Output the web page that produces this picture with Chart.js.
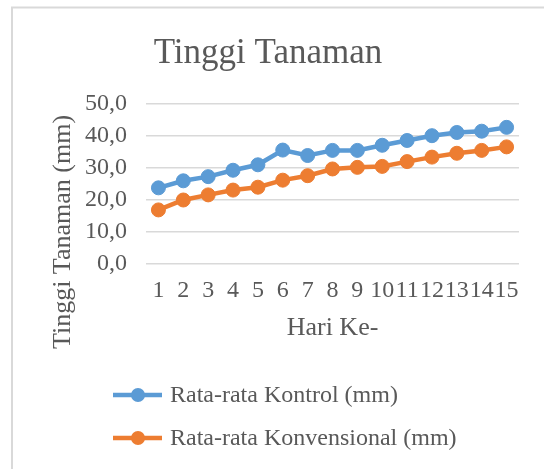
<!DOCTYPE html>
<html>
<head>
<meta charset="utf-8">
<script src="https://cdn.jsdelivr.net/npm/chart.js@4.4.1/dist/chart.umd.min.js"></script>
<style>
  html, body { margin: 0; padding: 0; background: #ffffff; }
  #wrap { width: 544px; height: 469px; position: relative; }
</style>
</head>
<body>
<div id="wrap"><canvas id="c" width="544" height="469"></canvas></div>
<script>
const categories = ['1','2','3','4','5','6','7','8','9','10','11','12','13','14','15'];
const kontrol = [23.8, 26.0, 27.3, 29.3, 31.0, 35.6, 33.9, 35.5, 35.5, 37.1, 38.6, 40.1, 41.1, 41.5, 42.7];
const konvensional = [16.9, 20.0, 21.6, 23.1, 24.0, 26.2, 27.6, 29.7, 30.2, 30.5, 32.0, 33.4, 34.6, 35.5, 36.6];
const seriesNames = ['Rata-rata Kontrol (mm)', 'Rata-rata Konvensional (mm)'];
const seriesColors = ['#5B9BD5', '#ED7D31'];
const chartTitle = 'Tinggi Tanaman';
const xTitle = 'Hari Ke-';
const yTitle = 'Tinggi Tanaman (mm)';

const FONT = "'Liberation Serif', 'Times New Roman', serif";
const TEXT = '#595959';

const framePlugin = {
  id: 'frame',
  beforeDraw(chart) {
    const ctx = chart.ctx;
    ctx.save();
    ctx.fillStyle = '#ffffff';
    ctx.fillRect(0, 0, chart.width, chart.height);
    ctx.strokeStyle = '#d9d9d9';
    ctx.lineWidth = 2;
    ctx.beginPath();
    ctx.moveTo(12, chart.height + 2);
    ctx.lineTo(12, 7.5);
    ctx.lineTo(chart.width + 2, 7.5);
    ctx.stroke();
    ctx.restore();
  }
};

const extrasPlugin = {
  id: 'extras',
  afterDraw(chart) {
    const ctx = chart.ctx;
    ctx.save();
    // y axis title
    ctx.fillStyle = TEXT;
    ctx.font = "26px " + FONT;
    ctx.textAlign = 'center';
    ctx.textBaseline = 'middle';
    ctx.translate(63, 232);
    ctx.rotate(-Math.PI / 2);
    ctx.fillText(yTitle, 0, 0);
    ctx.restore();

    // legend
    const rows = [395, 438];
    chart.data.datasets.forEach((ds, i) => {
      const y = rows[i];
      ctx.save();
      ctx.strokeStyle = ds.borderColor;
      ctx.lineWidth = 4.5;
      ctx.beginPath();
      ctx.moveTo(113, y);
      ctx.lineTo(162, y);
      ctx.stroke();
      ctx.fillStyle = ds.borderColor;
      ctx.beginPath();
      ctx.arc(138, y, 7, 0, Math.PI * 2);
      ctx.fill();
      ctx.fillStyle = TEXT;
      ctx.font = "24px " + FONT;
      ctx.textAlign = 'left';
      ctx.textBaseline = 'middle';
      ctx.fillText(ds.label, 170, y + 1);
      ctx.restore();
    });
  }
};

new Chart(document.getElementById('c'), {
  type: 'line',
  data: {
    labels: categories,
    datasets: [
      {
        label: seriesNames[0],
        data: kontrol,
        borderColor: seriesColors[0],
        backgroundColor: seriesColors[0],
        pointBackgroundColor: seriesColors[0],
        pointBorderColor: seriesColors[0],
        borderWidth: 4.5,
        pointRadius: 7,
        pointBorderWidth: 1,
        tension: 0
      },
      {
        label: seriesNames[1],
        data: konvensional,
        borderColor: seriesColors[1],
        backgroundColor: seriesColors[1],
        pointBackgroundColor: seriesColors[1],
        pointBorderColor: seriesColors[1],
        borderWidth: 4.5,
        pointRadius: 7,
        pointBorderWidth: 1,
        tension: 0
      }
    ]
  },
  options: {
    responsive: false,
    animation: false,
    events: [],
    layout: { padding: { left: 17, right: 25, top: 0, bottom: 0 } },
    plugins: {
      legend: { display: false },
      tooltip: { enabled: false },
      title: {
        display: true,
        text: chartTitle,
        color: TEXT,
        font: { family: FONT, size: 35, weight: 'normal' },
        padding: { top: 33, bottom: 29 }
      }
    },
    scales: {
      x: {
        offset: true,
        grid: { display: false, drawTicks: false },
        border: { display: false },
        ticks: {
          color: TEXT,
          font: { family: FONT, size: 24 },
          padding: 12,
          maxRotation: 0,
          autoSkip: false
        },
        title: {
          display: true,
          text: xTitle,
          color: TEXT,
          font: { family: FONT, size: 26 },
          padding: { top: 0, bottom: 125 }
        },
        afterFit(scale) { scale.height = 205; }
      },
      y: {
        min: 0,
        max: 50,
        grid: { color: '#d9d9d9', lineWidth: 1.5, drawTicks: false },
        border: { display: false },
        ticks: {
          stepSize: 10,
          color: TEXT,
          font: { family: FONT, size: 24 },
          padding: 19,
          callback: (v) => v.toFixed(1).replace('.', ',')
        },
        afterFit(scale) { scale.width = 129; }
      }
    }
  },
  plugins: [framePlugin, extrasPlugin]
});
</script>
</body>
</html>
